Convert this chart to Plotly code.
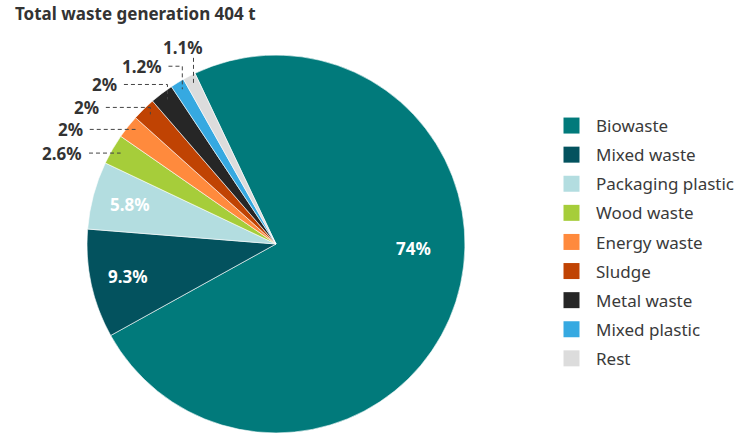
import math
import plotly.graph_objects as go

# ---------------- data ----------------
labels = ["Biowaste", "Mixed waste", "Packaging plastic", "Wood waste", "Energy waste",
          "Sludge", "Metal waste", "Mixed plastic", "Rest"]
tonnes = [299.0, 37.6, 23.4, 10.5, 8.1, 8.1, 8.1, 4.8, 4.4]
title_text = "Total waste generation 404 t"

# ---------------- style ----------------
colors = ["#017a7b", "#03525e", "#b3dde0", "#a6cd3a", "#ff8a3d",
          "#c04303", "#262626", "#36a9e1", "#dcdcdc"]
OFF = 0                            # body margin removed by post_script below
W, H = 740, 437
CX, CY, R = 279, 244, 191          # pie centre / radius in page px
ROT = -25.4                        # start angle of first slice (deg, clockwise from 12 o'clock)
FONT = "Noto Sans"
TXT = "#333333"
LBL = 17

def px(x):
    return (x - OFF) / W

def py(y):
    return 1 - (y - OFF) / H

def polar(theta_deg, rho):
    t = math.radians(theta_deg)
    return CX + rho * math.sin(t), CY - rho * math.cos(t)

total = sum(tonnes)
mids = []
a = ROT
for v in tonnes:
    span = v / total * 360
    mids.append(a + span / 2)
    a += span

def fmt(v):
    return f"{v / total * 100:.2g}%"

fig = go.Figure()
fig.add_trace(go.Pie(
    labels=labels, values=tonnes, sort=False, direction="clockwise", rotation=ROT,
    marker=dict(colors=colors, line=dict(color="white", width=0.6)),
    textinfo="none", hoverinfo="label+value+percent", showlegend=False,
    domain=dict(x=[px(CX - R), px(CX + R)], y=[py(CY + R), py(CY - R)]),
))
# legend entries (one per category)
for i, (lab, col) in enumerate(zip(labels, colors)):
    fig.add_trace(go.Scatter(
        x=[None], y=[None], mode="markers", name=lab, legendgroup=f"g{i}",
        marker=dict(symbol="square", size=16, color=col, line=dict(width=0)),
        hoverinfo="skip",
    ))

annotations = []
shapes = []

# inside labels (index: (radius fraction, angle override))
inside = {0: (0.73, 92.0), 1: (0.8, None), 2: (0.8, None)}
for i, (rf, ang) in inside.items():
    x, y = polar(ang if ang is not None else mids[i], rf * R)
    annotations.append(dict(x=px(x), y=py(y), xref="paper", yref="paper", text=f"<b>{fmt(tonnes[i])}</b>",
                            showarrow=False, font=dict(family=FONT, size=LBL, color="white"),
                            xanchor="center", yanchor="middle"))

# outside labels with dashed elbow leaders: index: (vertical lift px, horizontal length px)
outside = {3: (0, 32), 4: (2, 46), 5: (7, 45), 6: (15, 44), 7: (23, 14), 8: (25, 0)}
for i, (lift, length) in outside.items():
    ex, ey = polar(mids[i], 0.95 * R)
    ky = ey - lift
    sx = ex - length
    path = f"M {px(sx)},{py(ky)} L {px(ex)},{py(ky)} L {px(ex)},{py(ey)}"
    shapes.append(dict(type="path", path=path, xref="paper", yref="paper",
                       line=dict(color="#444444", width=1, dash="4px,3px")))
    if length > 0:
        annotations.append(dict(x=px(sx - 5), y=py(ky), xref="paper", yref="paper",
                                text=f"<b>{fmt(tonnes[i])}</b>", showarrow=False,
                                font=dict(family=FONT, size=LBL, color=TXT),
                                xanchor="right", yanchor="middle"))
    else:
        annotations.append(dict(x=px(ex - 11), y=py(ky - 10), xref="paper", yref="paper",
                                text=f"<b>{fmt(tonnes[i])}</b>", showarrow=False,
                                font=dict(family=FONT, size=LBL, color=TXT),
                                xanchor="center", yanchor="middle"))

fig.update_layout(
    width=W, height=H,
    margin=dict(l=0, r=0, t=0, b=0),
    paper_bgcolor="white", plot_bgcolor="white",
    font=dict(family=FONT, color=TXT),
    xaxis=dict(visible=False, fixedrange=True),
    yaxis=dict(visible=False, fixedrange=True),
    title=dict(text=f"<b>{title_text}</b>", x=px(15), xanchor="left", xref="container",
               y=py(14), yanchor="middle", yref="container",
               font=dict(family=FONT, size=LBL, color=TXT)),
    legend=dict(x=px(553), y=py(108), xanchor="left", yanchor="top",
                font=dict(family=FONT, size=17, color="#3a3a3a"), traceorder="grouped",
                tracegroupgap=4, itemwidth=39),
    annotations=annotations,
    shapes=shapes,
)

fig.write_html("out.html", config={"displayModeBar": False},
               post_script="document.body.style.margin='0';document.body.style.overflow='hidden';")
